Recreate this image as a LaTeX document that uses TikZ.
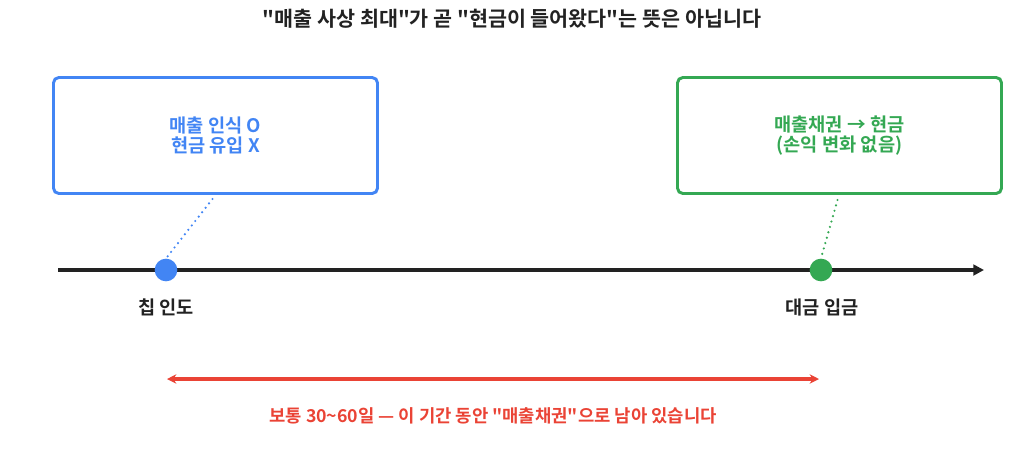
\documentclass[tikz,border=0pt]{standalone}
\usepackage{fontspec}
\setmainfont{Noto Sans CJK KR}
\newfontfamily\medfont{Noto Sans CJK KR Medium}
\newfontfamily\heavyfont{Noto Sans CJK KR Bold}
\usetikzlibrary{arrows.meta,positioning}
\definecolor{gblue}{HTML}{4285F4}
\definecolor{ggreen}{HTML}{34A853}
\definecolor{gred}{HTML}{EA4335}
\definecolor{ink}{HTML}{222222}
\newcommand\qt{\symbol{34}}
\tikzset{note box/.style={draw,rounded corners=4pt,line width=2.2pt,minimum width=243pt,minimum height=87pt,align=center,font=\fontsize{14}{15}\selectfont\heavyfont},
         event dot/.style={circle,minimum size=17pt,inner sep=0pt},
         event label/.style={font=\fontsize{14}{16}\selectfont\heavyfont,text=ink},
         link/.style={line width=1.8pt,line cap=round,dash pattern=on 0pt off 4.2pt}
}

\begin{document}
\begin{tikzpicture}[x=0.75pt,y=-0.75pt]
    \useasboundingbox (0,0) rectangle (1024,465);

    \node[font=\fontsize{15.5}{18}\selectfont\heavyfont,text=ink] (title) at (512,19) {\qt 매출 사상 최대\qt 가 곧 \qt 현금이 들어왔다\qt 는 뜻은 아닙니다};

    % timeline
    \coordinate (start) at (58,270);
    \coordinate (end) at (984,270);
    \draw[draw=ink,line width=3pt,-{Triangle[length=8pt,width=8pt]}] (start) -- (end);

    \node[event dot,fill=gblue] (ship) at (166,270) {};
    \node[event dot,fill=ggreen] (pay) at (821,270) {};
    \node[event label] (shiplabel) at (166,307) {칩 인도};
    \node[event label] (paylabel) at (822,307) {대금 입금};

    % boxes
    \node[note box,gblue] (sales) at (215.5,135.5) {매출 인식 O\\현금 유입 X};
    \node[note box,ggreen] (cash) at (839.5,135.5) {매출채권 → 현금\\(손익 변화 없음)};

    \draw[link,gblue] (sales.south) ++(-3,4) coordinate (s1) (s1) -- (ship.north);
    \draw[link,ggreen] (cash.south) ++(-2,5) coordinate (c1) (c1) -- (pay.north);

    % period
    \coordinate (from) at (167,379);
    \coordinate (to) at (819,379);
    \draw[draw=gred,line width=3pt,{Stealth[length=7pt,width=7pt]}-{Stealth[length=7pt,width=7pt]}] (from) -- (to);
    \node[font=\fontsize{13.3}{16}\selectfont\heavyfont,text=gred] (period) at (493,416) {보통 30\textasciitilde 60일 — 이 기간 동안 \qt 매출채권\qt 으로 남아 있습니다};
\end{tikzpicture}
\end{document}
